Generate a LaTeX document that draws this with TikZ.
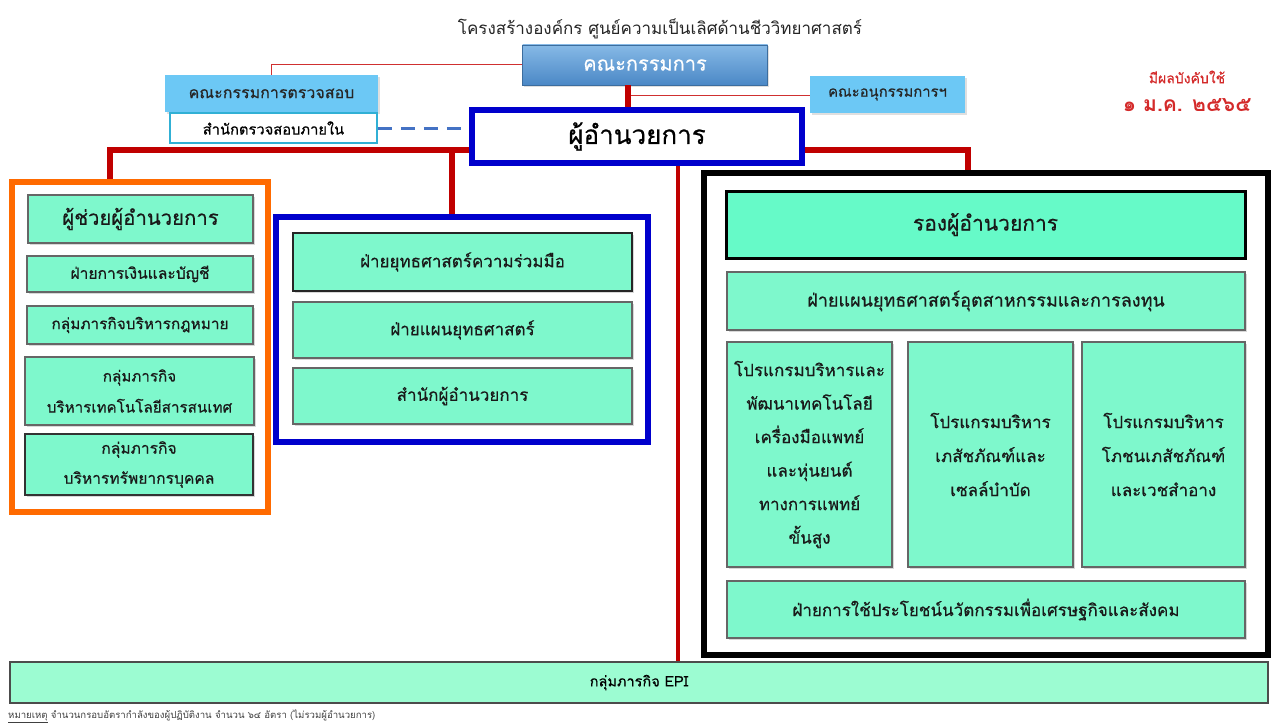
\documentclass[tikz,border=0pt]{standalone}
\usepackage{fontspec}
\newfontfamily\thai[Script=Thai]{Loma}
\newfontfamily\thaim[Script=Thai, FakeBold=0.5]{Loma}
\usetikzlibrary{shadows}
\definecolor{mint}{HTML}{7EF8CC}
\definecolor{mintdeep}{HTML}{66FAC8}
\definecolor{mintlight}{HTML}{9CFCD2}
\definecolor{darkred}{HTML}{C00000}
\definecolor{thinredc}{HTML}{D03030}
\definecolor{orangebrd}{HTML}{FF6A00}
\definecolor{bluebrd}{HTML}{0000CC}
\definecolor{skyblue}{HTML}{6CC8F5}
\definecolor{boardtop}{HTML}{86B9E6}
\definecolor{boardbot}{HTML}{4B88C6}
\definecolor{dashblue}{HTML}{4472C4}
\definecolor{tealbrd}{HTML}{31B0D5}
\definecolor{datered}{HTML}{D42A2A}
\begin{document}
\begin{tikzpicture}[x=1pt,y=-1pt,
  every node/.style={font=\thai},
  fs/.style={font=\thai\fontsize{#1}{\dimexpr #1pt*3/2\relax}\selectfont},
  fm/.style={font=\thaim\fontsize{#1}{\dimexpr #1pt*3/2\relax}\selectfont},
  mintbox/.style={draw=black!60, line width=1.2pt, fill=mint, align=center,
    inner sep=2pt, fm=17, text=black!90,
    drop shadow={opacity=0.3, shadow xshift=1.5pt, shadow yshift=-1.5pt}},
  container/.style={line width=5.5pt, fill=white, inner sep=0pt},
  thickred/.style={draw=darkred, line width=5.5pt},
  thinred/.style={draw=thinredc, line width=1pt},
  skybox/.style={fill=skyblue, draw=none, inner sep=0pt, text=black!85,
    drop shadow={opacity=0.25, shadow xshift=1.5pt, shadow yshift=-1.5pt}},
]
\useasboundingbox (0,0) rectangle (1276,725);
\fill[white] (0,0) rectangle (1276,725);

% title
\node[fs=17, text=black!85] (title) at (660,29) {โครงสร้างองค์กร ศูนย์ความเป็นเลิศด้านชีววิทยาศาสตร์};

% effective date
\node[fm=14, text=datered] (eff) at (1187,77) {มีผลบังคับใช้};
\node[text=datered, font=\thai\bfseries\fontsize{21}{26}\selectfont] (date) at (1187,105) {๑ ม.ค. ๒๕๖๕};

% containers
\node[container, draw=orangebrd, minimum width=256, minimum height=330] (orange) at (140,347) {};
\node[container, draw=bluebrd, minimum width=372, minimum height=225] (bluec) at (462,329.5) {};
\node[container, draw=black, minimum width=564, minimum height=482] (blackc) at (986,414) {};

% top boxes
\node[top color=boardtop, bottom color=boardbot, draw=boardbot!80!black, line width=0.5pt,
  minimum width=245, minimum height=40, inner sep=0pt, text=white, fm=20,
  drop shadow={opacity=0.25, shadow xshift=1.5pt, shadow yshift=-1.5pt}] (board) at (645,65) {คณะกรรมการ};
\node[skybox, minimum width=213, minimum height=37, fm=16] (audit) at (271.5,93.5) {คณะกรรมการตรวจสอบ};
\node[fill=white, draw=tealbrd, line width=1.5pt, minimum width=207, minimum height=30, inner sep=0pt, fm=14.7] (internal) at (273.5,128) {สำนักตรวจสอบภายใน};
\node[skybox, minimum width=155, minimum height=37, fm=14.8] (sub) at (887.5,94.5) {คณะอนุกรรมการฯ};
\node[fill=white, draw=bluebrd, line width=5.5pt, minimum width=330, minimum height=53, inner sep=0pt, fm=26] (dir) at (637,136.5) {ผู้อำนวยการ};

% EPI
\node[draw=black!70, line width=1.5pt, fill=mintlight, minimum width=1258, minimum height=41, inner sep=0pt, fm=14.5] (epi) at (639,682.5) {กลุ่มภารกิจ EPI};

% connectors
\coordinate (bj) at (628,95);
\coordinate (lj) at (110,150);
\coordinate (mj) at (452,150);
\coordinate (cj) at (678,150);
\coordinate (rj) at (968,150);
\draw[thinred] (board.west) -| (audit.north);
\draw[thinred] (bj) -- (sub.west |- bj);
\draw[thickred] (board.south -| bj) -- (dir.north -| bj);
\draw[dashblue, line width=3pt, dash pattern=on 14pt off 9pt] (internal.east) -- (dir.west |- internal.east);
\draw[thickred] (dir.west |- lj) -- (lj) -- (orange.north -| lj);
\draw[thickred] (mj) -- (bluec.north -| mj);
\draw[thickred, line width=4.5pt] (dir.south -| cj) -- (epi.north -| cj);
\draw[thickred] (dir.east |- rj) -- (rj) -- (blackc.north -| rj);

% orange group
\node[mintbox, fm=20.3, line width=1.5pt, minimum width=225, minimum height=48] (asst) at (140.5,219) {ผู้ช่วยผู้อำนวยการ};
\node[mintbox, fm=15.6, minimum width=226, minimum height=36] (fin) at (140,274) {ฝ่ายการเงินและบัญชี};
\node[mintbox, fm=15.4, minimum width=226, minimum height=38] (law) at (140,325) {กลุ่มภารกิจบริหารกฎหมาย};
\node[mintbox, minimum width=229, minimum height=68, font=\thaim\fontsize{15.2}{31}\selectfont] (it) at (139.5,391) {กลุ่มภารกิจ\\บริหารเทคโนโลยีสารสนเทศ};
\node[mintbox, draw=black!80, line width=1.8pt, minimum width=228, minimum height=61, font=\thaim\fontsize{15.6}{30}\selectfont] (hr) at (139,464.5) {กลุ่มภารกิจ\\บริหารทรัพยากรบุคคล};

% blue group
\node[mintbox, draw=black!85, line width=1.8pt, minimum width=339, minimum height=58] (coop) at (462.5,262) {ฝ่ายยุทธศาสตร์ความร่วมมือ};
\node[mintbox, minimum width=339, minimum height=56] (plan) at (462.5,330) {ฝ่ายแผนยุทธศาสตร์};
\node[mintbox, minimum width=339, minimum height=56] (office) at (462.5,396) {สำนักผู้อำนวยการ};

% black group
\node[mintbox, fill=mintdeep, draw=black, line width=3pt, fm=21, minimum width=519, minimum height=67] (deputy) at (985.5,224.5) {รองผู้อำนวยการ};
\node[mintbox, fm=18, minimum width=518, minimum height=58] (ind) at (986,301) {ฝ่ายแผนยุทธศาสตร์อุตสาหกรรมและการลงทุน};
\node[mintbox, minimum width=165, minimum height=225, font=\thaim\fontsize{17}{33.5}\selectfont] (p1) at (809.5,454.5) {โปรแกรมบริหารและ\\พัฒนาเทคโนโลยี\\เครื่องมือแพทย์\\และหุ่นยนต์\\ทางการแพทย์\\ขั้นสูง};
\node[mintbox, minimum width=165, minimum height=225, font=\thaim\fontsize{17}{34}\selectfont] (p2) at (990.5,454.5) {โปรแกรมบริหาร\\เภสัชภัณฑ์และ\\เซลล์บำบัด};
\node[mintbox, minimum width=163, minimum height=225, font=\thaim\fontsize{17}{34}\selectfont] (p3) at (1163.5,454.5) {โปรแกรมบริหาร\\โภชนเภสัชภัณฑ์\\และเวชสำอาง};
\node[mintbox, minimum width=518, minimum height=57] (innov) at (986,609.5) {ฝ่ายการใช้ประโยชน์นวัตกรรมเพื่อเศรษฐกิจและสังคม};

% footnote
\node[anchor=west, fs=9.6, text=black!75, inner sep=0pt] (note) at (8,716) {\underline{หมายเหตุ} จำนวนกรอบอัตรากำลังของผู้ปฏิบัติงาน จำนวน ๖๔ อัตรา (ไม่รวมผู้อำนวยการ)};
\end{tikzpicture}
\end{document}
